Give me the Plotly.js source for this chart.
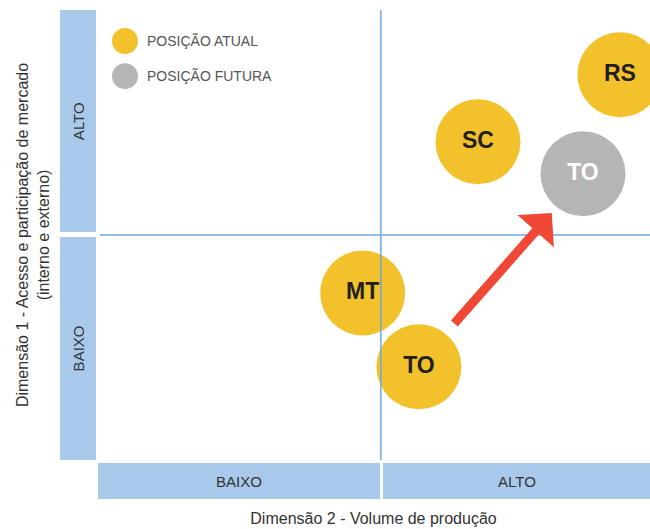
<!DOCTYPE html>
<html>
<head>
<meta charset="utf-8">
<script src="https://cdn.plot.ly/plotly-3.0.1.min.js"></script>
<style>
  html, body { margin: 0; padding: 0; background: #fff; }
  #chart { width: 650px; height: 529px; }
</style>
</head>
<body>
<div id="chart"></div>
<script>
// Posição atual dos estados (escala 0-100 nas duas dimensões)
const atualLabels = ['MT', 'TO', 'SC', 'RS'];
const atualX = [46.8, 56.7, 67.1, 92.1];
const atualY = [37.1, 20.7, 70.7, 85.6];

// Posição futura
const futuraLabels = ['TO'];
const futuraX = [85.6];
const futuraY = [63.6];

// Seta: de TO atual para TO futura
const arrowFrom = [62.7, 30.0];
const arrowTo = [80.1, 54.9];

const levelLabels = ['BAIXO', 'ALTO'];
const legendNames = ['POSIÇÃO ATUAL', 'POSIÇÃO FUTURA'];

const xMid = 50, yMid = 50;

const FONT = 'Liberation Sans, Arial, sans-serif';
const YELLOW = '#f2c12c';
const GRAY = '#b5b5b5';
const BLUE_BAR = '#a8c9ea';
const BLUE_LINE = '#6fa8dc';
const RED = '#ef4836';

const traces = [
  {
    x: atualX, y: atualY, text: atualLabels,
    type: 'scatter', mode: 'markers+text', name: legendNames[0],
    marker: { size: 85, color: YELLOW },
    textposition: 'middle center',
    textfont: { family: FONT, size: 23, color: '#231f20', weight: 'bold' },
    cliponaxis: false, hoverinfo: 'text', showlegend: false
  },
  {
    x: futuraX, y: futuraY, text: futuraLabels,
    type: 'scatter', mode: 'markers+text', name: legendNames[1],
    marker: { size: 85, color: GRAY },
    textposition: 'middle center',
    textfont: { family: FONT, size: 23, color: '#ffffff', weight: 'bold' },
    cliponaxis: false, hoverinfo: 'text', showlegend: false
  }
];

const shapes = [
  // divisórias dos quadrantes
  { type: 'line', xref: 'x', yref: 'y', x0: xMid, x1: xMid, y0: 0, y1: 100,
    line: { color: BLUE_LINE, width: 1.5 } },
  { type: 'line', xref: 'x', yref: 'y', x0: 0.5, x1: 97.4, y0: yMid, y1: yMid,
    line: { color: BLUE_LINE, width: 1.5 } },
  // barras verticais à esquerda
  { type: 'rect', xref: 'paper', yref: 'paper', x0: -0.0669, x1: -0.0018, y0: 0, y1: 0.4956,
    fillcolor: BLUE_BAR, line: { width: 0 } },
  { type: 'rect', xref: 'paper', yref: 'paper', x0: -0.0669, x1: -0.0018, y0: 0.5067, y1: 1,
    fillcolor: BLUE_BAR, line: { width: 0 } },
  // barras horizontais embaixo
  { type: 'rect', xref: 'paper', yref: 'paper', x0: 0.0018, x1: 0.5118, y0: -0.0867, y1: -0.0067,
    fillcolor: BLUE_BAR, line: { width: 0 } },
  { type: 'rect', xref: 'paper', yref: 'paper', x0: 0.517, x1: 1, y0: -0.0867, y1: -0.0067,
    fillcolor: BLUE_BAR, line: { width: 0 } }
];

// marcadores da legenda
const legendY = [0.931, 0.853];
[YELLOW, GRAY].forEach((c, i) => {
  shapes.push({
    type: 'circle', xref: 'paper', yref: 'paper',
    xsizemode: 'pixel', ysizemode: 'pixel',
    xanchor: 0.0506, yanchor: legendY[i],
    x0: -13, x1: 13, y0: -13, y1: 13,
    fillcolor: c, line: { width: 0 }
  });
});

const labelFont = { family: FONT, size: 15, color: '#333' };
const annotations = [
  { xref: 'paper', yref: 'paper', x: -0.0344, y: 0.248, text: levelLabels[0], textangle: -90,
    xanchor: 'center', yanchor: 'middle', showarrow: false, font: labelFont },
  { xref: 'paper', yref: 'paper', x: -0.0344, y: 0.753, text: levelLabels[1], textangle: -90,
    xanchor: 'center', yanchor: 'middle', showarrow: false, font: labelFont },
  { xref: 'paper', yref: 'paper', x: 0.2568, y: -0.0467, text: levelLabels[0],
    xanchor: 'center', yanchor: 'middle', showarrow: false, font: labelFont },
  { xref: 'paper', yref: 'paper', x: 0.7586, y: -0.0467, text: levelLabels[1],
    xanchor: 'center', yanchor: 'middle', showarrow: false, font: labelFont },
  // seta
  { x: arrowTo[0], y: arrowTo[1], ax: arrowFrom[0], ay: arrowFrom[1],
    xref: 'x', yref: 'y', axref: 'x', ayref: 'y', text: '',
    showarrow: true, arrowhead: 1, arrowsize: 0.9, arrowwidth: 9, arrowcolor: RED, standoff: 0 }
];

legendNames.forEach((n, i) => {
  annotations.push({
    xref: 'paper', yref: 'paper', x: 0.0868, y: legendY[i], xanchor: 'left', yanchor: 'middle',
    text: n, showarrow: false, font: { family: FONT, size: 14, color: '#555' }
  });
});

const layout = {
  width: 650, height: 529,
  margin: { l: 97, r: 0, t: 10, b: 69 },
  paper_bgcolor: '#fff', plot_bgcolor: '#fff',
  font: { family: FONT, color: '#333' },
  xaxis: {
    range: [0, 97.4], showgrid: false, zeroline: false, showticklabels: false, ticks: '',
    fixedrange: true,
    title: { text: 'Dimensão 2 - Volume de produção', font: { family: FONT, size: 16, color: '#333' }, standoff: 52 }
  },
  yaxis: {
    range: [0, 100], showgrid: false, zeroline: false, showticklabels: false, ticks: '',
    fixedrange: true,
    title: { text: 'Dimensão 1 - Acesso e participação de mercado<br>(interno e externo)',
      font: { family: FONT, size: 16, color: '#333' }, standoff: 42 }
  },
  shapes: shapes,
  annotations: annotations,
  showlegend: false
};

Plotly.newPlot('chart', traces, layout, { displayModeBar: false, staticPlot: true });
</script>
</body>
</html>
